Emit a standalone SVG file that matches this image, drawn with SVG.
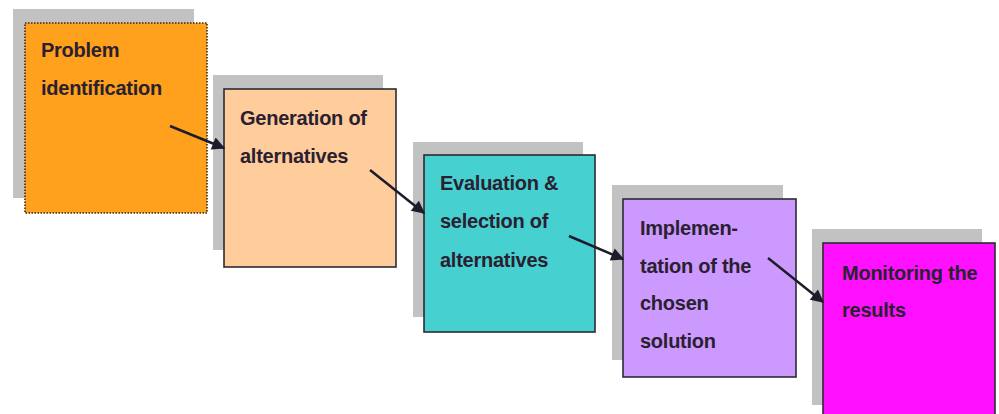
<svg xmlns="http://www.w3.org/2000/svg" width="999" height="414" viewBox="0 0 999 414">
<defs>
<style>
.shadow{fill:#c2c2c2;}
.box{stroke:#2b2b33;stroke-width:1.6;}
.lbl{font-family:"Liberation Sans",Arial,sans-serif;font-weight:bold;font-size:20px;letter-spacing:-0.25px;fill:#2a2030;}
.conn{stroke:#1c1c2c;stroke-width:2.5;fill:none;marker-end:url(#ah);}
</style>
<marker id="ah" viewBox="0 0 10 10" refX="9" refY="5" markerWidth="6.4" markerHeight="5.2" markerUnits="strokeWidth" orient="auto">
<path d="M0,0 L10,5 L0,10 z" fill="#1c1c2c"/>
</marker>
</defs>
<rect width="999" height="414" fill="#ffffff"/>
<g id="node-problem">
<rect class="shadow" x="13" y="9" width="181" height="189"/>
<rect x="25" y="23" width="182" height="190" fill="#ffa11c" stroke="#3a2a10" stroke-width="1.6" stroke-dasharray="1.5 1.5"/>
<text class="lbl" x="41" y="57">Problem</text>
<text class="lbl" x="41" y="95">identification</text>
</g>
<g id="node-generation">
<rect class="shadow" x="213" y="75" width="170" height="175"/>
<rect class="box" x="224" y="89" width="172" height="178" fill="#ffcc9c"/>
<text class="lbl" x="240" y="125">Generation of</text>
<text class="lbl" x="240" y="163">alternatives</text>
</g>
<g id="node-evaluation">
<rect class="shadow" x="413" y="142" width="170" height="175"/>
<rect class="box" x="424" y="155" width="171" height="177" fill="#46d0d0"/>
<text class="lbl" x="440" y="190">Evaluation &amp;</text>
<text class="lbl" x="440" y="228">selection of</text>
<text class="lbl" x="440" y="267">alternatives</text>
</g>
<g id="node-implementation">
<rect class="shadow" x="612" y="185" width="171" height="175"/>
<rect class="box" x="623" y="199" width="173" height="178" fill="#cc99ff"/>
<text class="lbl" x="640" y="235">Implemen-</text>
<text class="lbl" x="640" y="273">tation of the</text>
<text class="lbl" x="640" y="310">chosen</text>
<text class="lbl" x="640" y="348">solution</text>
</g>
<g id="node-monitoring">
<rect class="shadow" x="812" y="229" width="170" height="176"/>
<rect class="box" x="823" y="243" width="172" height="185" fill="#ff11ff"/>
<text class="lbl" x="842" y="280">Monitoring the</text>
<text class="lbl" x="842" y="317">results</text>
</g>
<g id="connectors">
<line class="conn" x1="170" y1="126" x2="224" y2="148"/>
<line class="conn" x1="370" y1="170" x2="424" y2="213"/>
<line class="conn" x1="569" y1="236" x2="623" y2="259"/>
<line class="conn" x1="768" y1="258" x2="823" y2="302"/>
</g>
</svg>
